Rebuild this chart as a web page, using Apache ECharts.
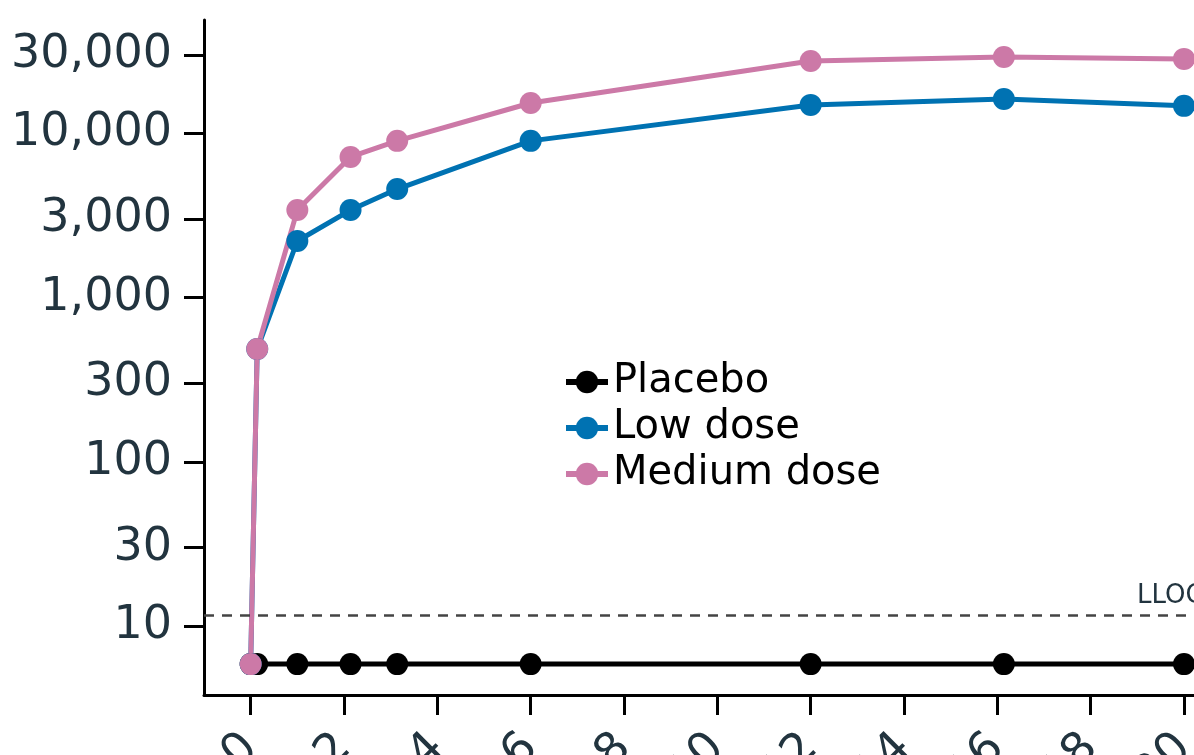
<!DOCTYPE html>
<html>
<head>
<meta charset="utf-8">
<script src="https://cdn.jsdelivr.net/npm/echarts@6/dist/echarts.min.js"></script>
<style>
html,body{margin:0;padding:0;background:#fff;}
#chart{width:1194px;height:755px;}
</style>
</head>
<body>
<div id="chart"></div>
<script>
// Time points (weeks)
const weeks = [0, 0.14, 1, 2.14, 3.14, 6, 12, 16.14, 20];
const placebo = [5.86, 5.86, 5.86, 5.86, 5.86, 5.86, 5.86, 5.86, 5.86];
const lowDose = [5.86, 486, 2210, 3410, 4580, 9000, 14900, 16200, 14700];
const mediumDose = [5.86, 486, 3410, 7180, 9000, 15300, 27600, 29200, 28400];
const yTicks = [10, 30, 100, 300, 1000, 3000, 10000, 30000];
const xTicks = [0, 2, 4, 6, 8, 10, 12, 14, 16, 18, 20];
const lloq = 11.67;
const seriesNames = ['Placebo', 'Low dose', 'Medium dose'];
const colors = ['#000000', '#0072B2', '#CC79A7'];

const pair = (xs, ys) => xs.map((x, i) => [x, ys[i]]);

const chart = echarts.init(document.getElementById('chart'));
const font = 'DejaVu Sans, sans-serif';
const mkSeries = (name, vals, color, extra) => Object.assign({
  name: name,
  type: 'line',
  data: pair(weeks, vals),
  symbol: 'circle',
  symbolSize: 22,
  color: color,
  lineStyle: {width: 5, color: color},
  itemStyle: {color: color},
  emphasis: {disabled: true},
  animation: false
}, extra || {});

chart.setOption({
  animation: false,
  grid: {left: 204, top: 20, width: 1008, height: 675, outerBoundsMode: 'none', containLabel: false},
  legend: {
    left: 558, top: 357, orient: 'vertical',
    itemWidth: 42, itemHeight: 28, itemGap: 6,
    lineStyle: {width: 6},
    textStyle: {fontFamily: font, fontSize: 40, color: '#000'},
    data: seriesNames
  },
  xAxis: {
    type: 'value', min: -1, max: 20.6,
    axisLine: {onZero: false, lineStyle: {color: '#000', width: 3}},
    axisTick: {customValues: xTicks, length: 20, lineStyle: {color: '#000', width: 3}},
    axisLabel: {customValues: xTicks, rotate: 45, fontSize: 46, fontFamily: font, color: '#22343f', margin: 46},
    splitLine: {show: false}
  },
  yAxis: {
    type: 'log', min: 3.8, max: 49000,
    axisLine: {show: true, onZero: false, lineStyle: {color: '#000', width: 3}},
    axisTick: {show: true, customValues: yTicks, length: 20, lineStyle: {color: '#000', width: 3}},
    axisLabel: {customValues: yTicks, fontSize: 46, fontFamily: font, color: '#22343f', margin: 32,
      formatter: v => Number(v).toLocaleString('en-US')},
    splitLine: {show: false}
  },
  series: [
    mkSeries(seriesNames[0], placebo, colors[0], {
      markLine: {
        silent: true, symbol: 'none',
        lineStyle: {type: [10, 8], color: '#444', width: 2.5},
        label: {show: true, position: 'insideEndTop', formatter: 'LLOQ', fontFamily: font, fontSize: 26, color: '#22343f', distance: 6},
        data: [{yAxis: lloq}]
      }
    }),
    mkSeries(seriesNames[1], lowDose, colors[1]),
    mkSeries(seriesNames[2], mediumDose, colors[2])
  ]
});
</script>
</body>
</html>
